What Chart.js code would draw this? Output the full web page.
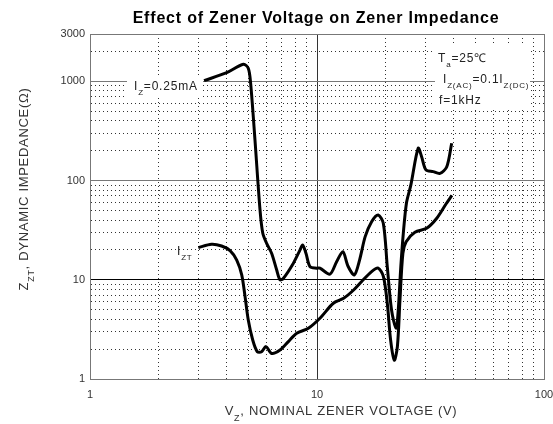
<!DOCTYPE html>
<html>
<head>
<meta charset="utf-8">
<script src="https://cdn.jsdelivr.net/npm/chart.js@4.4.0/dist/chart.umd.min.js"></script>
<style>
  body { margin: 0; background: #fff; }
</style>
</head>
<body>
<canvas id="grafico" width="553" height="424"></canvas>
<script>
// Curva Iz = 0.25mA (voltaje nominal V, impedancia ohm)
const vz025 = [3.18, 4.0, 4.74, 4.98, 5.1, 5.33, 5.61, 5.77, 6.0, 6.31, 6.64, 6.87, 7.1, 7.87, 8.42, 8.65, 8.94, 9.31, 9.97, 10.3,
               11.4, 12.2, 13.0, 13.7, 14.6, 15.4, 16.3, 17.4, 18.6, 19.6, 20.4, 21.3, 22.3, 22.8, 23.4, 24.0, 24.8, 25.9, 27.9,
               28.9, 30.2, 32.5, 34.8, 37.3, 39.2];
const zz025 = [1016, 1224, 1487, 1355, 957, 257, 50.5, 29.4, 23.3, 18.5, 12.6, 10.0, 10.3, 14.7, 20, 22.4, 18.5, 13.6, 13.1, 13.1,
               11.4, 15.2, 19.2, 13.7, 11.2, 15.8, 27.2, 38.5, 45, 37, 13.6, 4.96, 3.24, 4.96, 13.6, 29.4, 60, 90, 212,
               174, 128, 123, 118, 138, 238];

// Curva Izt
const vzZT = [3.0, 3.43, 3.8, 4.14, 4.43, 4.66, 4.82, 4.98, 5.21, 5.46, 5.7, 5.96, 6.31, 6.87, 7.48, 8.14, 9.16, 10.3,
              11.8, 13.1, 14.5, 15.7, 17.4, 18.6, 19.6, 20.4, 21.1, 21.9, 22.6, 23.2, 23.9, 24.7, 27.0, 30.4, 33.7, 37.0, 39.3];
const zzZT = [21.1, 22.8, 21.9, 19.7, 15.8, 11.2, 6.76, 3.93, 2.47, 1.88, 1.88, 2.12, 1.81, 1.96, 2.38, 2.89, 3.24, 4.09,
              5.8, 6.5, 7.89, 9.57, 12.1, 13.1, 10.8, 5.8, 2.47, 1.55, 2.12, 6.26, 18.5, 24.2, 30.1, 33, 41.7, 58, 71];

// Etiquetas de los ejes
const xTickLabels = [1, 10, 100];
const yTickLabels = [1, 10, 100, 1000, 3000];

const FUENTE = '"Liberation Sans", Arial, sans-serif';

// lineas de rejilla: 1..9 de cada decada
function decadas(min, max) {
    const vals = [];
    for (let d = min; d < max; d *= 10) {
        for (let k = 1; k < 10; k++) {
            if (d * k <= max) vals.push(d * k);
        }
    }
    vals.push(max);
    return vals;
}

function aPuntos(xs, ys) {
    return xs.map((x, i) => ({ x: x, y: ys[i] }));
}

// texto con subindices: partes = [[texto, esSub], ...]
function anchoTexto(ctx, partes, size) {
    let w = 0;
    partes.forEach(([t, sub]) => {
        ctx.font = (sub ? Math.round(size * 0.7) : size) + 'px ' + FUENTE;
        w += ctx.measureText(t).width;
    });
    return w;
}

function dibujarTexto(ctx, partes, x, y, size) {
    let cx = x;
    partes.forEach(([t, sub]) => {
        ctx.font = (sub ? Math.round(size * 0.7) : size) + 'px ' + FUENTE;
        ctx.fillText(t, cx, sub ? y + size * 0.45 : y);
        cx += ctx.measureText(t).width;
    });
}

const pluginTextos = {
    id: 'textos',
    afterDraw(chart) {
        const ctx = chart.ctx;
        ctx.save();
        ctx.textBaseline = 'alphabetic';

        // titulo
        ctx.fillStyle = '#000';
        ctx.font = 'bold 16px ' + FUENTE;
        ctx.letterSpacing = '0.8px';
        ctx.textAlign = 'center';
        ctx.fillText('Effect of Zener Voltage on Zener Impedance', 316, 23);
        ctx.textAlign = 'left';

        ctx.fillStyle = '#333';
        ctx.letterSpacing = '0.7px';

        // titulo eje x
        const px = [['V', false], ['Z', true], [', NOMINAL ZENER VOLTAGE (V)', false]];
        const wx = anchoTexto(ctx, px, 13);
        dibujarTexto(ctx, px, 341 - wx / 2, 415, 13);

        // titulo eje y (rotado)
        const py = [['Z', false], ['ZT', true], [', DYNAMIC IMPEDANCE(\u03A9)', false]];
        const wy = anchoTexto(ctx, py, 13);
        ctx.save();
        ctx.translate(28, 189);
        ctx.rotate(-Math.PI / 2);
        dibujarTexto(ctx, py, -wy / 2, 0, 13);
        ctx.restore();

        // anotaciones de las curvas
        ctx.fillStyle = '#fff';
        ctx.fillRect(127, 76, 76, 22);
        ctx.fillRect(435, 46, 95, 63);
        ctx.fillStyle = '#222';
        ctx.letterSpacing = '0.8px';
        dibujarTexto(ctx, [['I', false], ['Z', true], ['=0.25mA', false]], 134, 90, 12);
        dibujarTexto(ctx, [['I', false], ['ZT', true]], 177, 255, 12);
        dibujarTexto(ctx, [['T', false], ['a', true], ['=25\u2103', false]], 438, 62, 12);
        dibujarTexto(ctx, [['I', false], ['Z(AC)', true], ['=0.1I', false], ['Z(DC)', true]], 443, 83, 12);
        dibujarTexto(ctx, [['f=1kHz', false]], 439, 104, 12);
        ctx.restore();
    }
};

function esMayor(v) {
    return [1, 10, 100, 1000].some(m => Math.abs(v - m) < 1e-9);
}

const ctx = document.getElementById('grafico');
new Chart(ctx, {
    type: 'scatter',
    data: {
        datasets: [
            {
                label: 'Iz=0.25mA',
                data: aPuntos(vz025, zz025),
                showLine: true,
                borderColor: '#000',
                borderWidth: 3,
                pointRadius: 0,
                tension: 0.3
            },
            {
                label: 'Izt',
                data: aPuntos(vzZT, zzZT),
                showLine: true,
                borderColor: '#000',
                borderWidth: 3,
                pointRadius: 0,
                tension: 0.3
            }
        ]
    },
    options: {
        responsive: false,
        animation: false,
        layout: { padding: { left: 0, right: 9, top: 34, bottom: 0 } },
        plugins: {
            legend: { display: false },
            tooltip: { enabled: false },
            title: { display: false }
        },
        scales: {
            x: {
                type: 'logarithmic',
                min: 1,
                max: 100,
                afterBuildTicks: (eje) => { eje.ticks = decadas(1, 100).map(v => ({ value: v })); },
                afterFit: (eje) => { eje.height = 45; eje.paddingLeft = 0; eje.paddingRight = 0; },
                ticks: {
                    autoSkip: false,
                    maxRotation: 0,
                    padding: 9,
                    color: '#333',
                    font: { family: FUENTE, size: 11 },
                    callback: (v) => xTickLabels.includes(v) ? String(v) : ''
                },
                grid: {
                    drawTicks: false,
                    color: (c) => (c.tick && c.tick.value === 100) ? '#777' : '#333',
                    lineWidth: 1
                },
                border: {
                    color: '#777',
                    dash: (c) => (c.tick && !esMayor(c.tick.value)) ? [1, 3] : []
                }
            },
            y: {
                type: 'logarithmic',
                min: 1,
                max: 3000,
                afterBuildTicks: (eje) => { eje.ticks = decadas(1, 1000).concat([2000, 3000]).map(v => ({ value: v })); },
                afterFit: (eje) => { eje.width = 90; eje.paddingTop = 0; eje.paddingBottom = 0; },
                ticks: {
                    autoSkip: false,
                    padding: 5,
                    color: '#333',
                    font: { family: FUENTE, size: 11 },
                    callback: (v) => yTickLabels.includes(v) ? String(v) : ''
                },
                grid: {
                    drawTicks: false,
                    color: (c) => {
                        if (!c.tick) return '#333';
                        if (c.tick.value === 10) return '#000';
                        if (c.tick.value === 100 || c.tick.value === 1000 || c.tick.value === 3000) return '#777';
                        return '#333';
                    },
                    lineWidth: 1
                },
                border: {
                    color: '#777',
                    dash: (c) => (c.tick && !esMayor(c.tick.value) && c.tick.value !== 3000) ? [1, 3] : []
                }
            }
        }
    },
    plugins: [pluginTextos]
});
</script>
</body>
</html>
